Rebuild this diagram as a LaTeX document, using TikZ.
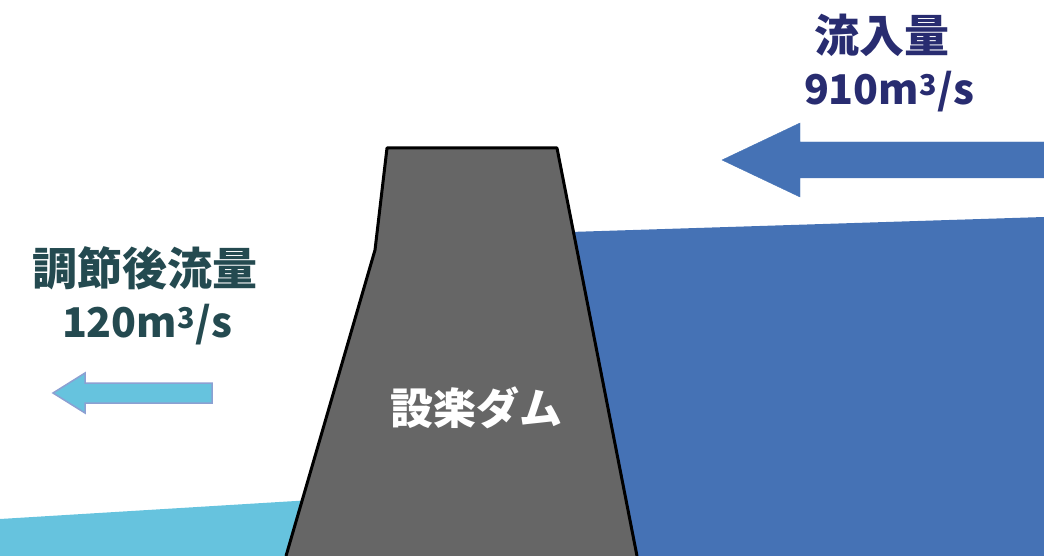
\documentclass[tikz,border=0pt]{standalone}
\usepackage{fontspec}
\newfontfamily\jpfont{Noto Sans CJK JP}

\definecolor{damgray}{RGB}{102,102,102}
\definecolor{deepwater}{RGB}{69,114,181}
\definecolor{lowwater}{RGB}{102,195,222}
\definecolor{arrowedge}{RGB}{140,160,210}
\definecolor{innavy}{RGB}{40,44,112}
\definecolor{outteal}{RGB}{36,74,80}

\begin{document}
\begin{tikzpicture}[x=1pt,y=-1pt]
            \useasboundingbox (0,0) rectangle (1044,556);

            % water behind and below the dam
            \fill[lowwater] (0,519) -- (312,500) -- (312,556) -- (0,556) -- cycle;
            \fill[deepwater] (570,232) -- (1044,217) -- (1044,556) -- (600,556) -- cycle;

            % dam body
            \fill[damgray] (387,148) -- (557,148) -- (637,556) -- (286,556) -- (375,250) -- cycle;
            \draw[black, line width=3pt, line join=round] (286,556) -- (375,250) -- (387,148) -- (557,148) -- (637,556);
            \node[text=white, font=\jpfont\bfseries\fontsize{43}{48}\selectfont] (damname) at (476,408) {設楽ダム};

            % inflow
            \filldraw[deepwater] (722,160) -- (800,123) -- (800,142) -- (1044,142) -- (1044,178) -- (800,178) -- (800,197) -- cycle;
            \node[text=innavy, font=\jpfont\bfseries\fontsize{45}{50}\selectfont] (inlabel) at (882,35) {流入量};
            \node[text=innavy, font=\jpfont\bfseries\fontsize{41}{46}\selectfont] (inrate) at (889,92) {910m\textsuperscript{3}/s};

            % outflow after control
            \filldraw[lowwater, draw=arrowedge, line width=1.5pt] (53,393) -- (85,373) -- (85,383) -- (212,383) -- (212,403) -- (85,403) -- (85,413) -- cycle;
            \node[text=outteal, font=\jpfont\bfseries\fontsize{45}{50}\selectfont] (outlabel) at (145,268) {調節後流量};
            \node[text=outteal, font=\jpfont\bfseries\fontsize{41}{46}\selectfont] (outrate) at (147,325) {120m\textsuperscript{3}/s};
        \end{tikzpicture}
\end{document}
